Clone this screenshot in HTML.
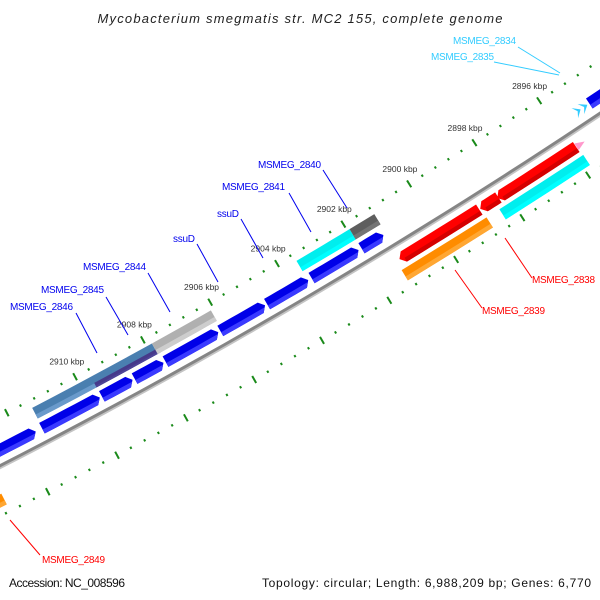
<!DOCTYPE html>
<html><head><meta charset="utf-8"><style>
html,body{margin:0;padding:0;background:#fff}
svg{display:block;font-family:"Liberation Sans","DejaVu Sans",sans-serif}
</style></head><body>
<svg id="map" width="600" height="600" viewBox="0 0 600 600" xmlns="http://www.w3.org/2000/svg">
<rect width="600" height="600" fill="#fff"/>
<text x="300" y="23" text-anchor="middle" font-style="italic" font-size="13" fill="#222" textLength="405" lengthAdjust="spacing">Mycobacterium smegmatis str. MC2 155, complete genome</text>
<g id="ticks"></g>
<g id="backbone"></g>
<g id="genes"></g>
<g font-size="10">
 <g><text x="10" y="310" fill="#0000ee" textLength="63">MSMEG_2846</text><line x1="76" y1="313" x2="97" y2="353" stroke="#0000ee" stroke-width="1"/></g>
 <g><text x="41" y="293" fill="#0000ee" textLength="63">MSMEG_2845</text><line x1="106" y1="297" x2="128" y2="335" stroke="#0000ee" stroke-width="1"/></g>
 <g><text x="83" y="270" fill="#0000ee" textLength="63">MSMEG_2844</text><line x1="148" y1="273" x2="170" y2="312" stroke="#0000ee" stroke-width="1"/></g>
 <g><text x="173" y="242" fill="#0000ee" textLength="22">ssuD</text><line x1="197" y1="244" x2="218" y2="282" stroke="#0000ee" stroke-width="1"/></g>
 <g><text x="217" y="217" fill="#0000ee" textLength="22">ssuD</text><line x1="241" y1="219" x2="263" y2="258" stroke="#0000ee" stroke-width="1"/></g>
 <g><text x="222" y="190" fill="#0000ee" textLength="63">MSMEG_2841</text><line x1="289" y1="193" x2="311" y2="232" stroke="#0000ee" stroke-width="1"/></g>
 <g><text x="258" y="168" fill="#0000ee" textLength="63">MSMEG_2840</text><line x1="323" y1="170" x2="347" y2="208" stroke="#0000ee" stroke-width="1"/></g>
 <g><text x="532" y="283" fill="#ff0000" textLength="63">MSMEG_2838</text><line x1="505" y1="238" x2="532" y2="278" stroke="#ff0000" stroke-width="1"/></g>
 <g><text x="482" y="314" fill="#ff0000" textLength="63">MSMEG_2839</text><line x1="455" y1="270" x2="482" y2="308" stroke="#ff0000" stroke-width="1"/></g>
 <g><text x="42" y="563" fill="#ff0000" textLength="63">MSMEG_2849</text><line x1="10" y1="520" x2="40" y2="555" stroke="#ff0000" stroke-width="1"/></g>
 <g><text x="453" y="44" fill="#33ccff" textLength="63">MSMEG_2834</text><line x1="518" y1="47" x2="560" y2="73" stroke="#33ccff" stroke-width="1"/></g>
 <g><text x="431" y="60" fill="#33ccff" textLength="63">MSMEG_2835</text><line x1="494" y1="62" x2="559" y2="75" stroke="#33ccff" stroke-width="1"/></g>
</g>
<text x="9" y="587" font-size="12" fill="#111" textLength="116">Accession: NC_008596</text>
<text x="591" y="587" font-size="12" fill="#111" text-anchor="end" textLength="329">Topology: circular; Length: 6,988,209 bp; Genes: 6,770</text>
</svg>
<script>
// gene data (kbp)
const geneNames = ["g-left-1","g-2911","g-2910","g-2909","g-2907","g-2905","g-2904","g-2903","g-2901","g-2895a","g-2895b","g-2895c",
  "MSMEG_2846","MSMEG_2845","MSMEG_2844","MSMEG_2841","MSMEG_2840",
  "red-2900","red-2898","MSMEG_2838","pink-2895","MSMEG_2849-red",
  "MSMEG_2839","cyan-2897","MSMEG_2849"];
const geneStart = [2913.9,2911.38,2909.63,2908.67,2907.76,2906.14,2904.75,2903.42,2901.92,2894.96,2895.41,2895.22,
  2911.36,2909.64,2907.84,2903.53,2901.93,
  2901.23,2898.79,2898.27,2895.85,2914.6,
  2901.33,2898.38,2914.6];
const geneEnd = [2911.56,2909.69,2908.73,2907.82,2906.20,2904.81,2903.52,2902.01,2901.26,2894.2,2895.23,2895.02,
  2907.84,2907.75,2906.09,2901.93,2901.18,
  2898.82,2898.24,2895.86,2895.6,2913.1,
  2898.77,2895.82,2913.08];
const geneRow = ["F1","F1","F1","F1","F1","F1","F1","F1","F1","F1","F1","F1",
  "F2","F2h","F2","F2","F2",
  "R1","R1","R1","R1s","R1",
  "R2","R2","R2"];
const geneType = ["arrowR","arrowR","arrowR","arrowR","arrowR","arrowR","arrowR","arrowR","arrowR","arrowR","chev","chev",
  "bar","bar","bar","bar","bar",
  "arrowL","arrowL","arrowL","tri","arrowL",
  "bar","bar","bar"];
const geneColor = ["blue","blue","blue","blue","blue","blue","blue","blue","blue","blue","sky","sky",
  "steel","purple","gray","cyan","dgray",
  "red","red","red","pink","red",
  "orange","cyan","orange"];
const majorTickLabels = [2896,2898,2900,2902,2904,2906,2908,2910];

const CX=-2744, CY=-4892, R0=6020, PHI0=0.9891, KRATE=0.006457;
function P(k,d){const a=PHI0+(k-2896)*KRATE, r=R0-d; return [CX+r*Math.cos(a), CY+r*Math.sin(a)];}
const rowD={F1:14.5,F2:31,F2h:27.5,R1:-14.5,R1s:-14.5,R2:-31};
const rowH={F1:6,F2:6,F2h:2.5,R1:6,R1s:4,R2:6};
const pal={blue:["#0000e8","#3a3aff"],sky:["#33ccff","#66ddff"],steel:["#4a7fb0","#6a9acb"],purple:["#463a8a","#4f4396"],
  gray:["#b0b0b0","#cdcdcd"],cyan:["#00eeee","#00ffff"],dgray:["#5e5e5e","#747474"],red:["#ff0000","#d40000"],
  pink:["#ff99cc","#ffb0d8"],orange:["#ff8c00","#ffa733"]};
const NS="http://www.w3.org/2000/svg";
function el(tag,attrs,parent){const e=document.createElementNS(NS,tag);for(const k in attrs)e.setAttribute(k,attrs[k]);parent.appendChild(e);return e;}
function pts(a){return a.map(p=>p[0].toFixed(2)+","+p[1].toFixed(2)).join(" ");}
function arc(k1,k2,d,n){const o=[];for(let i=0;i<=n;i++)o.push(P(k1+(k2-k1)*i/n,d));return o;}

// ticks
const tg=document.getElementById('ticks');
[44.5,-44.5].forEach(ring=>{
  for(let i=-20;i<=50;i++){
    const k=2894+i*0.4; const kk=Math.round(k*10)/10;
    const major=Math.abs(kk/2-Math.round(kk/2))<1e-6;
    const len=major?4:1.2;
    const a=P(kk,ring+len), b=P(kk,ring-len);
    const t=el('line',{x1:a[0],y1:a[1],x2:b[0],y2:b[1],stroke:"#1a8a1a","stroke-width":2},tg);
    
    
  }
});
majorTickLabels.forEach(k=>{
  const p=P(k,62);
  const t=el('text',{x:p[0],y:p[1]+3,"text-anchor":"middle","font-size":"8.5",fill:"#333"},tg);
  t.textContent=k+" kbp";
  
  
});

// backbone
const bg=document.getElementById('backbone');
const bbS=el('polyline',{points:pts(arc(2893,2917,-1.5,40)),fill:"none",stroke:"#c4c4c4","stroke-width":2.5},bg);


const bb=el('polyline',{points:pts(arc(2893,2917,0.5,40)),fill:"none",stroke:"#858585","stroke-width":3},bg);



// genes
const gg=document.getElementById('genes');
const TIP=0.13;
for(let i=0;i<geneStart.length;i++){
  const ks=geneStart[i], ke=geneEnd[i], row=geneRow[i], d=rowD[row], h=rowH[row], type=geneType[i], c=pal[geneColor[i]];
  const g=el('g',{},gg);
  
  
  let shape=[], lower=[];
  if(type==="bar"){
    shape=arc(ks,ke,d+h,6).concat(arc(ke,ks,d-h,6));
    lower=arc(ks,ke,d-h*0.25,6).concat(arc(ke,ks,d-h,6));
  } else if(type==="arrowR"){
    const kb=ke+TIP;
    shape=arc(ks,kb,d+h,6).concat([P(ke,d)]).concat(arc(kb,ks,d-h,6));
    lower=arc(ks,kb,d-h*0.25,6).concat([P(ke+TIP*0.25,d-h*0.25),P(ke+TIP*0.25,d-h*0.25)]).concat(arc(kb,ks,d-h,6));
  } else if(type==="arrowL"){
    const kb=ks-TIP;
    shape=[P(ks,d)].concat(arc(kb,ke,d+h,6)).concat(arc(ke,kb,d-h,6));
    lower=arc(kb,ke,d-h*0.25,6).concat(arc(ke,kb,d-h,6));
  } else if(type==="chev"){
    const km=(ks+ke)/2;
    shape=[P(ks,d+h),P(ke,d),P(ks,d-h),P(km,d)];
  } else if(type==="tri"){
    shape=[P(ks,d+h),P(ke,d),P(ks,d-h)];
  }
  const m=el('polygon',{points:pts(shape),fill:c[0]},g);
  
  
  if(lower.length){
    const l=el('polygon',{points:pts(lower),fill:c[1]},g);
    
    
  }
}
</script>
</body></html>
